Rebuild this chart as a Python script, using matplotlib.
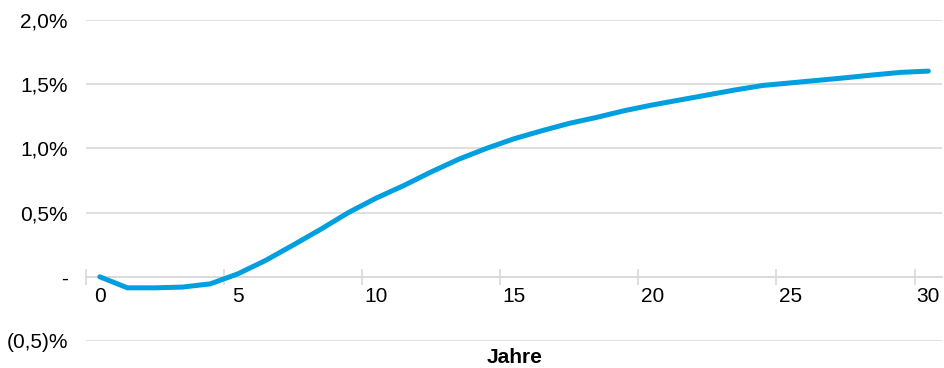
import numpy as np
import matplotlib.pyplot as plt
from matplotlib.ticker import FixedLocator, FuncFormatter

plt.rcParams['font.family'] = ['Liberation Sans', 'DejaVu Sans']

years = list(range(31))
spread = [0.0, -0.086, -0.086, -0.08, -0.055, 0.023, 0.127, 0.247, 0.37, 0.5,
          0.612, 0.71, 0.817, 0.916, 1.0, 1.075, 1.137, 1.195, 1.242, 1.294,
          1.338, 1.377, 1.416, 1.455, 1.49, 1.51, 1.53, 1.55, 1.572, 1.592, 1.602]
y_ticks = [-0.5, 0.0, 0.5, 1.0, 1.5, 2.0]
x_labels = [0, 5, 10, 15, 20, 25, 30]

grid_col = "#d9d9d9"
line_col = "#009fdf"


def pct(v, pos=None):
    if abs(v) < 1e-9:
        return "-"
    s = ("%.1f" % abs(v)).replace(".", ",")
    return "(%s)%%" % s if v < 0 else s + "%"


fig = plt.figure(figsize=(9.45, 3.68), dpi=100)
ax = fig.add_axes([0.091, 0.0734, 0.906, 0.8723])

ax.plot(years, spread, color=line_col, lw=3.6, solid_capstyle="round",
        solid_joinstyle="round", zorder=3)

ax.set_xlim(-0.5, 30.5)
ax.set_ylim(-0.5, 2.0)

ax.set_yticks(y_ticks)
ax.yaxis.set_major_formatter(FuncFormatter(pct))
ax.grid(axis="y", color=grid_col, lw=1.2)
ax.set_axisbelow(True)
ax.tick_params(axis="y", length=0, pad=13, labelsize=15, colors="black")

for side in ["top", "right", "left"]:
    ax.spines[side].set_visible(False)
ax.spines["bottom"].set_position(("data", 0))
ax.spines["bottom"].set_color(grid_col)
ax.spines["bottom"].set_linewidth(1.2)

ax.xaxis.set_major_locator(FixedLocator(x_labels))
ax.xaxis.set_minor_locator(FixedLocator(np.arange(-0.5, 31, 5)))
ax.tick_params(axis="x", which="major", length=0, pad=7, labelsize=15)
ax.tick_params(axis="x", which="minor", direction="inout", length=12,
               width=1.2, color=grid_col)

ax.set_xlabel("Jahre", fontsize=15, fontweight="bold", va="center")
ax.xaxis.set_label_coords(0.5, -0.05)

fig.savefig("out.png", dpi=100)
